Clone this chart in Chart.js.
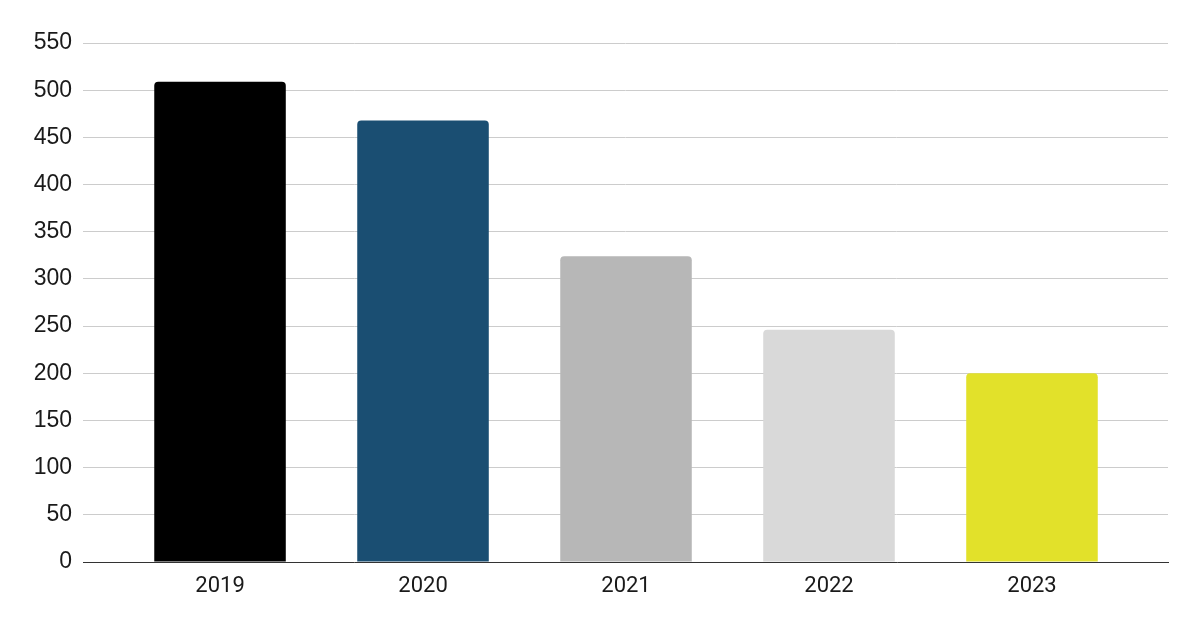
<!DOCTYPE html>
<html>
<head>
<meta charset="utf-8">
<script src="https://cdn.jsdelivr.net/npm/chart.js@4.4.0/dist/chart.umd.min.js"></script>
<style>
  html, body { margin: 0; padding: 0; background: #fff; }
  #wrap { width: 1200px; height: 618px; }
</style>
</head>
<body>
<div id="wrap"><canvas id="myChart" width="1200" height="618"></canvas></div>
<script>
// data
var years = ['2019', '2020', '2021', '2022', '2023'];
var values = [509, 468, 324, 246, 200];
var barColors = ['#000000', '#1a4e72', '#b7b7b7', '#d9d9d9', '#e2e12a'];
var yTicks = [0, 50, 100, 150, 200, 250, 300, 350, 400, 450, 500, 550];

document.addEventListener('DOMContentLoaded', function() {
    var ctx = document.getElementById('myChart').getContext('2d');

    var points = years.map(function(y, i) { return { x: i, y: values[i] }; });

    new Chart(ctx, {
        type: 'bar',
        data: {
            datasets: [{
                data: points,
                backgroundColor: barColors,
                borderRadius: { topLeft: 4, topRight: 4 },
                borderSkipped: 'bottom',
                categoryPercentage: 1,
                barPercentage: 0.648
            }]
        },
        options: {
            responsive: false,
            animation: false,
            layout: { padding: { top: 43, right: 32, left: 0, bottom: 0 } },
            plugins: { legend: { display: false }, tooltip: { enabled: false } },
            scales: {
                x: {
                    type: 'linear',
                    offset: false,
                    min: -0.675,
                    max: 4.67,
                    afterFit: function(s) { s.height = 56; },
                    ticks: {
                        stepSize: 1,
                        includeBounds: false,
                        autoSkip: false,
                        maxRotation: 0,
                        padding: 11,
                        color: '#1a1a1a',
                        font: { family: 'Roboto', size: 22 },
                        callback: function(v) {
                            return Number.isInteger(v) ? years[v] : '';
                        }
                    },
                    grid: { display: false, drawTicks: false },
                    border: { display: true, color: '#333', width: 1 }
                },
                y: {
                    min: 0,
                    max: 550,
                    afterFit: function(s) { s.width = 83; },
                    afterBuildTicks: function(s) {
                        s.ticks = yTicks.map(function(v) { return { value: v }; });
                    },
                    ticks: {
                        padding: 11,
                        color: '#1a1a1a',
                        font: { family: 'Liberation Sans', size: 23 }
                    },
                    grid: { color: '#cccccc', lineWidth: 1, drawTicks: false },
                    border: { display: false }
                }
            }
        }
    });
});
</script>
</body>
</html>
